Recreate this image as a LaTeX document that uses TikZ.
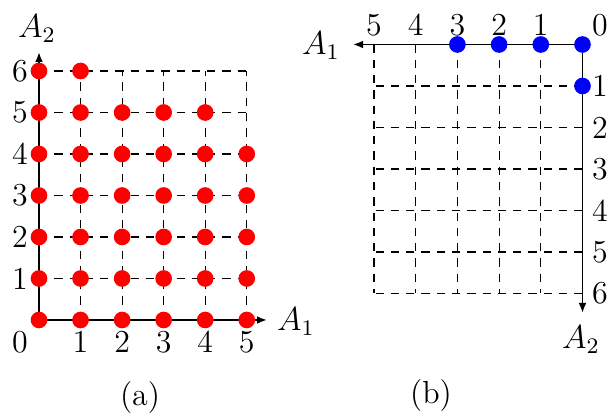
\documentclass[tikz,border=0pt]{standalone}
\usetikzlibrary{arrows.meta}
\begin{document}
\begin{tikzpicture}[x=0.36pt,y=-0.36pt,
  gridline/.style={dash pattern=on 3pt off 2.5pt, line width=0.4pt},
  axis/.style={line width=0.65pt,-{Latex[length=3.6pt,width=2.8pt]}},
  reddot/.style={circle,fill=red,inner sep=0pt,minimum size=6pt},
  bluedot/.style={circle,fill=blue,inner sep=0pt,minimum size=6pt},
  lbl/.style={inner sep=0pt,font=\fontsize{11.5}{13.5}\selectfont}]
\useasboundingbox (0,0) rectangle (610,413);
% ---------------- (a) ----------------
\foreach \i in {0,...,5}
  \foreach \j in {0,...,6}
    \coordinate (a\i\j) at ({39+41.55*\i},{320-41.5*\j});
\coordinate (aX) at (267,320);
\coordinate (aY) at (39,52);
\foreach \j in {1,...,6} \draw[gridline] (a0\j) -- (a5\j);
\foreach \i in {1,...,5} \draw[gridline] (a\i0) -- (a\i6);
\draw[axis] (a00) -- (aX);
\draw[axis] (a00) -- (aY);
\foreach \j in {0,...,4}
  \foreach \i in {0,...,5}
    \node[reddot] (ra\i\j) at (a\i\j) {};
\foreach \i in {0,...,4} \node[reddot] (ra\i5) at (a\i5) {};
\foreach \i in {0,1} \node[reddot] (ra\i6) at (a\i6) {};
\node[lbl] (ax0) at (20,342) {0};
\foreach \i in {1,...,5} \node[lbl] (ax\i) at ({39+41.55*\i},342) {\i};
\foreach \j in {1,...,6} \node[lbl] (ay\j) at ({20},{320-41.5*\j}) {\j};
\node[lbl] (aA1) at (296,322) {$A_1$};
\node[lbl] (aA2) at (37,29) {$A_2$};
\node[lbl] (capa) at (140,398) {(a)};
% ---------------- (b) ----------------
\foreach \i in {0,...,5}
  \foreach \j in {0,...,6}
    \coordinate (b\i\j) at ({582.5-41.7*\i},{44.5+41.5*\j});
\coordinate (bX) at (353,44.5);
\coordinate (bY) at (582.5,313);
\foreach \j in {1,...,6} \draw[gridline] (b0\j) -- (b5\j);
\foreach \i in {1,...,5} \draw[gridline] (b\i0) -- (b\i6);
\draw[axis] (b00) -- (bX);
\draw[axis] (b00) -- (bY);
\foreach \i in {0,...,3} \node[bluedot] (bb\i0) at (b\i0) {};
\node[bluedot] (bb01) at (b01) {};
\node[lbl] (bx0) at (600,25) {0};
\foreach \i in {1,...,5} \node[lbl] (bx\i) at ({582.5-41.7*\i},25) {\i};
\foreach \j in {1,...,6} \node[lbl] (by\j) at (600,{44.5+41.5*\j}) {\j};
\node[lbl] (bA1) at (321,46) {$A_1$};
\node[lbl] (bA2) at (581,340) {$A_2$};
\node[lbl] (capb) at (431,396) {(b)};
\end{tikzpicture}
\end{document}
